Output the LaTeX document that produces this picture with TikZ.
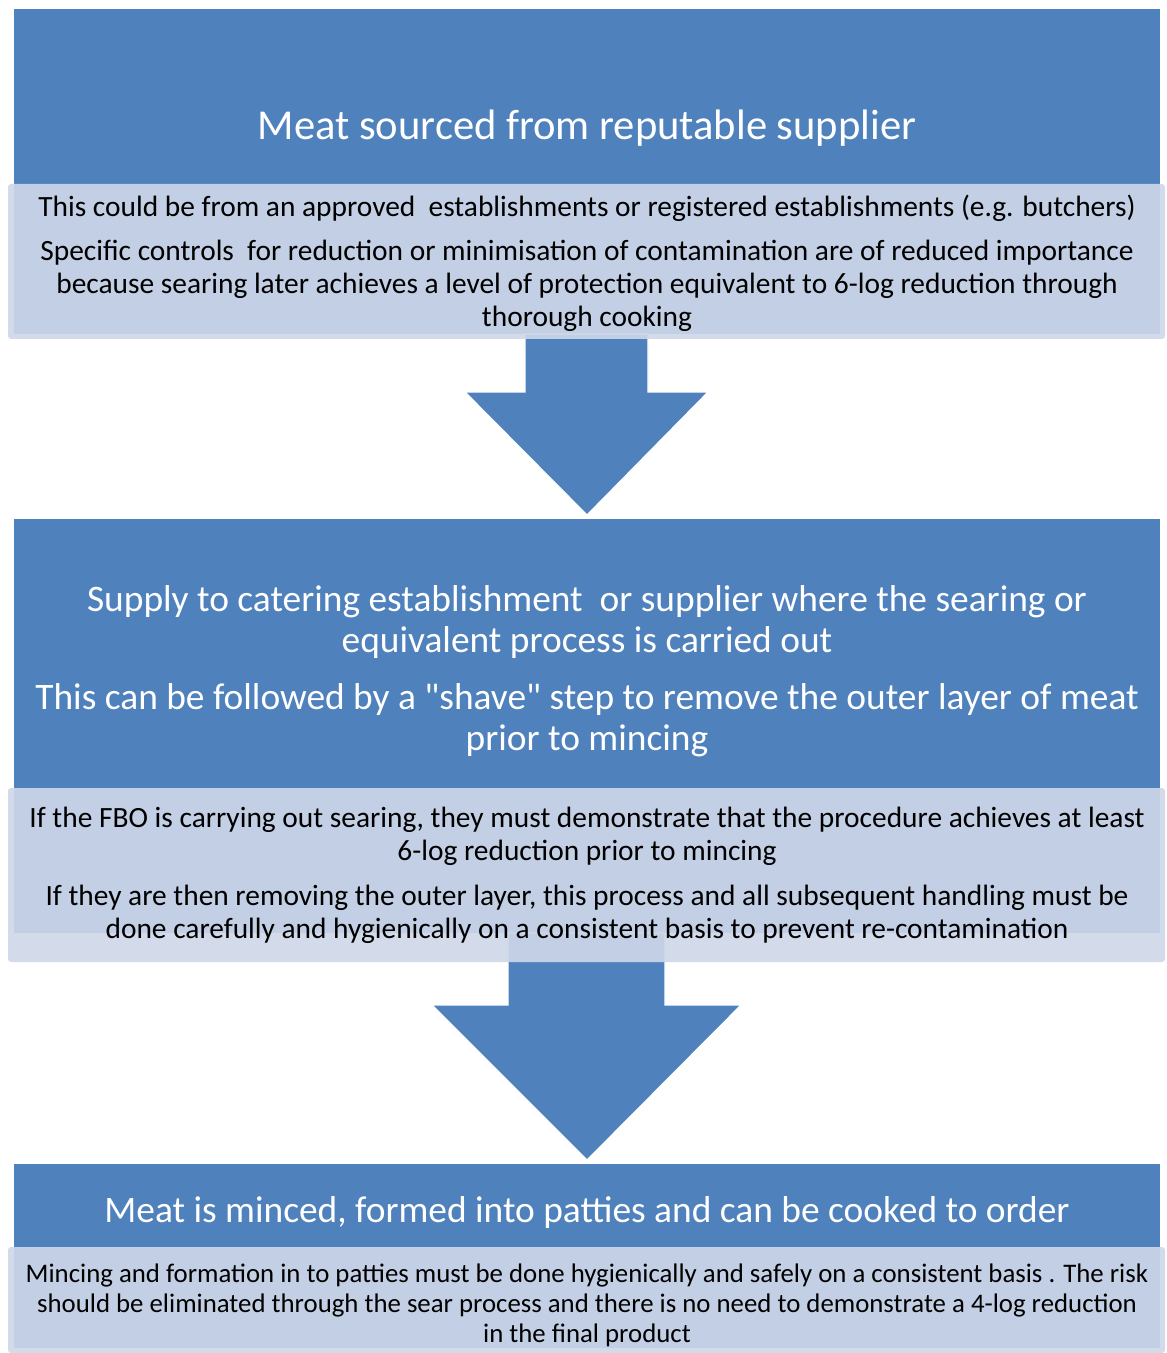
\documentclass[tikz,border=0pt]{standalone}
\usepackage{fontspec}
\setmainfont{Carlito}[Ligatures=TeXOff]
\usepackage{xcolor}
\usepackage{tikz}
\usetikzlibrary{positioning,calc}
\definecolor{stepblue}{HTML}{4F81BD}
\definecolor{notefill}{HTML}{CFD7E8}

\begin{document}
\begin{tikzpicture}[x=0.5pt,y=-0.5pt,
   stepbox/.style={fill=stepblue,draw=white,line width=0.3pt},
   notebox/.style={fill=notefill,fill opacity=0.91,draw=none,rounded corners=1.5pt},
   flowarrow/.style={fill=stepblue,draw=white,line width=0.6pt},
   headtxt/.style={text=white,align=center,inner sep=0pt},
   notetxt/.style={text=black,align=center,inner sep=0pt}]
\useasboundingbox (0,0) rectangle (1166,1353);
\path[stepbox] (13,8) rectangle (1160,334);
\path[stepbox] (13,518) rectangle (1160,933);
\path[stepbox] (13,1163) rectangle (1160,1348);
\path[flowarrow] (525,334) -- (648,334) -- (648,392) -- (708,392) -- (587,515)
   -- (465,392) -- (525,392) -- cycle;
\path[flowarrow] (508,933) -- (665,933) -- (665,1005) -- (741,1005) -- (587,1160)
   -- (432,1005) -- (508,1005) -- cycle;
\path[notebox] (8,184) rectangle (1165,339);
\path[notebox] (8,788) rectangle (1165,962);
\path[notebox] (8,1247) rectangle (1165,1353);
\node[headtxt,font=\fontsize{21.3}{26}\selectfont] (head1) at (587,128)
   {Meat sourced from reputable supplier};
\node[notetxt,font=\fontsize{14.7}{16.5}\selectfont] (note1) at (587,263)
   {This could be from an approved\ \ establishments or registered establishments (e.g. butchers)\\[5.5pt]
    Specific controls\ \ for reduction or minimisation of contamination are of reduced importance\\
    because searing later achieves a level of protection equivalent to 6-log reduction through\\
    thorough cooking};
\node[headtxt,font=\fontsize{18.7}{20.5}\selectfont] (head2) at (587,671)
   {Supply to catering establishment\ \ or supplier where the searing or\\
    equivalent process is carried out\\[8pt]
    This can be followed by a "shave" step to remove the outer layer of meat\\
    prior to mincing};
\node[notetxt,font=\fontsize{14.7}{16.5}\selectfont] (note2) at (587,875)
   {If the FBO is carrying out searing, they must demonstrate that the procedure achieves at least\\
    6-log reduction prior to mincing\\[6pt]
    If they are then removing the outer layer, this process and all subsequent handling must be\\
    done carefully and hygienically on a consistent basis to prevent re-contamination};
\node[headtxt,font=\fontsize{18.7}{20.5}\selectfont] (head3) at (587,1213)
   {Meat is minced, formed into patties and can be cooked to order};
\node[notetxt,font=\fontsize{13.4}{15}\selectfont] (note3) at (587,1305)
   {Mincing and formation in to patties must be done hygienically and safely on a consistent basis . The risk\\
    should be eliminated through the sear process and there is no need to demonstrate a 4-log reduction\\
    in the final product};
\end{tikzpicture}
\end{document}
